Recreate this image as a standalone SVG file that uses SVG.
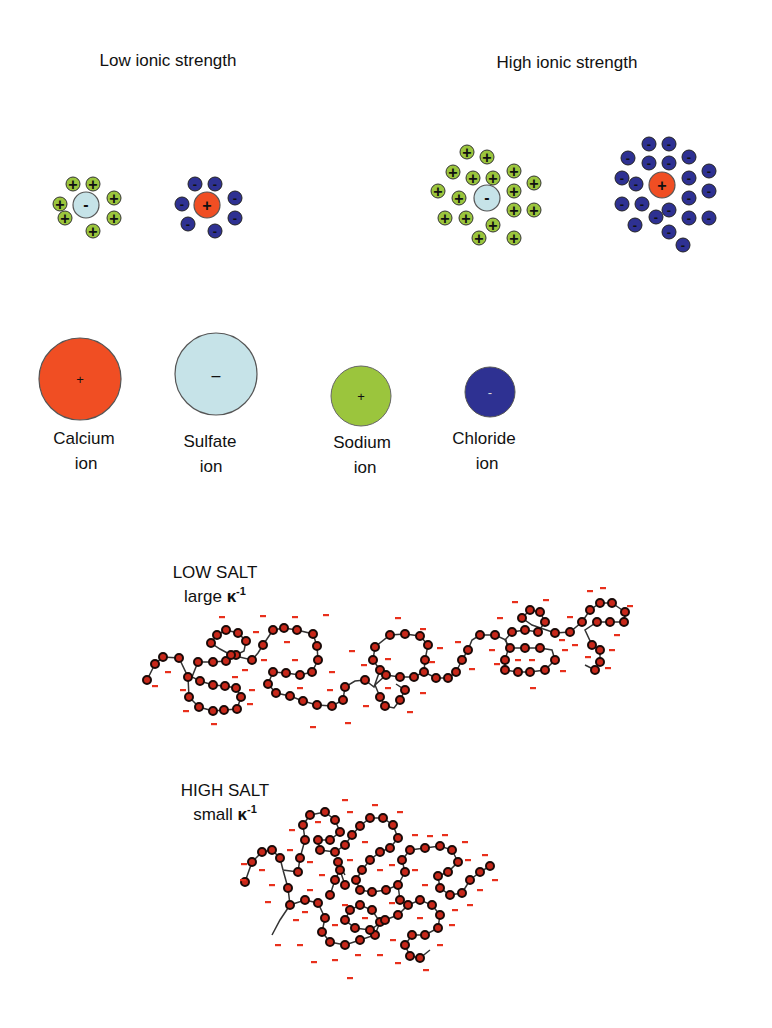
<svg xmlns="http://www.w3.org/2000/svg" width="772" height="1028" viewBox="0 0 772 1028">
<style>
text{font-family:"Liberation Sans",Arial,sans-serif;fill:#111}
.t{font-size:17px;text-anchor:middle}
.g{fill:#9bc53d;stroke:#333;stroke-width:1}
.b{fill:#2e3192;stroke:#222;stroke-width:1}
.lb{fill:#c6e3e8;stroke:#555;stroke-width:1.2}
.r{fill:#f04e23;stroke:#555;stroke-width:1.2}
.s{font-size:16px;text-anchor:middle;font-weight:bold}
.chain{fill:none;stroke:#333;stroke-width:1.5}
.bead{fill:#c8281a;stroke:#1a0a08;stroke-width:2}
.d{fill:#e8301c}
</style>
<defs>
<g id="gp"><circle r="7" class="g"/><text y="5.5" class="s">+</text></g>
<g id="bm"><circle r="7" class="b"/><text y="4.5" class="s" style="font-size:13px">-</text></g>
<rect id="dash" x="-3" y="-1" width="6" height="2.2" class="d"/>
</defs>
<text x="168" y="66" class="t">Low ionic strength</text>
<text x="567" y="68" class="t">High ionic strength</text>

<g id="low-anion">
<circle cx="86" cy="205" r="13" class="lb"/><text x="86" y="210" class="s">-</text>
<use href="#gp" x="73" y="184"/><use href="#gp" x="93" y="184"/><use href="#gp" x="114" y="198"/><use href="#gp" x="114" y="218"/><use href="#gp" x="93" y="231"/><use href="#gp" x="65" y="218"/><use href="#gp" x="60" y="204"/>
</g>
<g id="low-cation">
<circle cx="207" cy="205" r="13" class="r"/><text x="207" y="211" class="s">+</text>
<use href="#bm" x="195" y="184"/><use href="#bm" x="215" y="184"/><use href="#bm" x="235" y="198"/><use href="#bm" x="235" y="218"/><use href="#bm" x="215" y="231"/><use href="#bm" x="188" y="224"/><use href="#bm" x="182" y="204"/>
</g>
<g id="high-anion">
<circle cx="487" cy="198" r="13" class="lb"/><text x="487" y="203" class="s">-</text>
<use href="#gp" x="467" y="152"/><use href="#gp" x="487" y="157"/><use href="#gp" x="453" y="172"/><use href="#gp" x="473" y="178"/><use href="#gp" x="493" y="178"/><use href="#gp" x="514" y="171"/><use href="#gp" x="534" y="183"/><use href="#gp" x="438" y="191"/><use href="#gp" x="459" y="198"/><use href="#gp" x="514" y="191"/><use href="#gp" x="445" y="218"/><use href="#gp" x="466" y="218"/><use href="#gp" x="514" y="210"/><use href="#gp" x="534" y="210"/><use href="#gp" x="493" y="225"/><use href="#gp" x="479" y="238"/><use href="#gp" x="514" y="238"/>
</g>
<g id="high-cation">
<circle cx="662" cy="185" r="13" class="r"/><text x="662" y="191" class="s">+</text>
<use href="#bm" x="649" y="144"/><use href="#bm" x="669" y="144"/><use href="#bm" x="628" y="158"/><use href="#bm" x="649" y="163"/><use href="#bm" x="669" y="163"/><use href="#bm" x="689" y="157"/><use href="#bm" x="709" y="171"/><use href="#bm" x="622" y="178"/><use href="#bm" x="636" y="184"/><use href="#bm" x="689" y="178"/><use href="#bm" x="709" y="191"/><use href="#bm" x="622" y="204"/><use href="#bm" x="642" y="204"/><use href="#bm" x="669" y="210"/><use href="#bm" x="689" y="198"/><use href="#bm" x="656" y="217"/><use href="#bm" x="689" y="218"/><use href="#bm" x="709" y="218"/><use href="#bm" x="635" y="225"/><use href="#bm" x="669" y="232"/><use href="#bm" x="683" y="245"/>
</g>

<g id="calcium"><circle cx="80" cy="379" r="41" class="r"/><text x="80" y="384" style="font-size:13px;text-anchor:middle">+</text>
<text x="84" y="444" class="t">Calcium</text><text x="86" y="469" class="t">ion</text></g>
<g id="sulfate"><circle cx="216" cy="374" r="41" class="lb"/><text x="216" y="381" style="font-size:16px;text-anchor:middle">–</text>
<text x="210" y="447" class="t">Sulfate</text><text x="211" y="472" class="t">ion</text></g>
<g id="sodium"><circle cx="361" cy="396" r="30" fill="#9bc53d" stroke="#666"/><text x="361" y="401" style="font-size:13px;text-anchor:middle">+</text>
<text x="362" y="448" class="t">Sodium</text><text x="365" y="473" class="t">ion</text></g>
<g id="chloride"><circle cx="490" cy="392" r="25" fill="#2e3192" stroke="#555"/><text x="490" y="397" style="font-size:13px;text-anchor:middle;fill:#ddd">-</text>
<text x="484" y="444" class="t">Chloride</text><text x="487" y="469" class="t">ion</text></g>

<text x="215" y="578" class="t">LOW SALT</text>
<text x="215" y="602" class="t">large <tspan font-weight="bold">κ</tspan><tspan font-size="11" dy="-7" font-weight="bold">-1</tspan></text>
<text x="225" y="796" class="t">HIGH SALT</text>
<text x="225" y="820" class="t">small <tspan font-weight="bold">κ</tspan><tspan font-size="11" dy="-7" font-weight="bold">-1</tspan></text>

<g id="low-salt-polymer">
<path class="chain" d="M147,680 L155,664 163,657 179,658 188,677 189,697 199,707 213,711 224,710 237,709 241,697 236,688 225,686 213,685 200,681 192,677 198,662 213,662 226,661 236,655 244,651 246,641 238,633 226,630 217,635 211,643 220,649 231,655 252,660 258,653 263,645 273,630 284,628 297,630 313,634 317,646 318,660 312,672 300,675 286,673 273,672 268,684 276,693 290,696 303,701 317,705 332,706 343,700 345,687 355,681 365,680 374,687 380,670 373,660 375,647 390,635 405,634 420,636 428,645 425,660 424,672 414,677 400,677 386,675 375,685 380,697 385,706 394,708 400,700 405,690 396,684 M424,672 L436,678 448,678 456,672 462,660 468,650 472,640 480,635 495,635 506,640 508,650 505,660 505,670 518,672 530,672 545,670 555,660 552,650 540,648 525,648 510,648 505,640 512,632 525,630 538,632 545,622 540,612 530,610 522,618 532,625 555,633 570,632 582,622 590,610 600,603 612,603 625,612 624,622 610,622 597,622 585,630 592,645 600,650 600,662 595,670 585,665"/>
<g class="bead">
<circle cx="147" cy="680" r="4"/><circle cx="155" cy="664" r="4"/><circle cx="163" cy="657" r="4"/><circle cx="179" cy="658" r="4"/><circle cx="188" cy="677" r="4"/><circle cx="189" cy="697" r="4"/><circle cx="199" cy="707" r="4"/><circle cx="213" cy="711" r="4"/><circle cx="224" cy="710" r="4"/><circle cx="237" cy="709" r="4"/><circle cx="241" cy="697" r="4"/><circle cx="236" cy="688" r="4"/><circle cx="225" cy="686" r="4"/><circle cx="213" cy="685" r="4"/><circle cx="200" cy="681" r="4"/><circle cx="198" cy="662" r="4"/><circle cx="213" cy="662" r="4"/><circle cx="226" cy="661" r="4"/><circle cx="236" cy="655" r="4"/><circle cx="246" cy="641" r="4"/><circle cx="238" cy="633" r="4"/><circle cx="226" cy="630" r="4"/><circle cx="217" cy="635" r="4"/><circle cx="211" cy="643" r="4"/><circle cx="231" cy="655" r="4"/><circle cx="252" cy="660" r="4"/><circle cx="263" cy="645" r="4"/><circle cx="273" cy="630" r="4"/><circle cx="284" cy="628" r="4"/><circle cx="297" cy="630" r="4"/><circle cx="313" cy="634" r="4"/><circle cx="317" cy="646" r="4"/><circle cx="318" cy="660" r="4"/><circle cx="312" cy="672" r="4"/><circle cx="300" cy="675" r="4"/><circle cx="286" cy="673" r="4"/><circle cx="273" cy="672" r="4"/><circle cx="268" cy="684" r="4"/><circle cx="276" cy="693" r="4"/><circle cx="290" cy="696" r="4"/><circle cx="303" cy="701" r="4"/><circle cx="317" cy="705" r="4"/><circle cx="332" cy="706" r="4"/><circle cx="343" cy="700" r="4"/><circle cx="345" cy="687" r="4"/><circle cx="365" cy="680" r="4"/><circle cx="380" cy="670" r="4"/><circle cx="373" cy="660" r="4"/><circle cx="375" cy="647" r="4"/><circle cx="390" cy="635" r="4"/><circle cx="405" cy="634" r="4"/><circle cx="420" cy="636" r="4"/><circle cx="428" cy="645" r="4"/><circle cx="425" cy="660" r="4"/><circle cx="424" cy="672" r="4"/><circle cx="414" cy="677" r="4"/><circle cx="400" cy="677" r="4"/><circle cx="386" cy="675" r="4"/><circle cx="380" cy="697" r="4"/><circle cx="385" cy="706" r="4"/><circle cx="400" cy="700" r="4"/><circle cx="405" cy="690" r="4"/><circle cx="436" cy="678" r="4"/><circle cx="448" cy="678" r="4"/><circle cx="456" cy="672" r="4"/><circle cx="462" cy="660" r="4"/><circle cx="468" cy="650" r="4"/><circle cx="480" cy="635" r="4"/><circle cx="495" cy="635" r="4"/><circle cx="505" cy="660" r="4"/><circle cx="505" cy="670" r="4"/><circle cx="518" cy="672" r="4"/><circle cx="530" cy="672" r="4"/><circle cx="545" cy="670" r="4"/><circle cx="555" cy="660" r="4"/><circle cx="540" cy="648" r="4"/><circle cx="525" cy="648" r="4"/><circle cx="510" cy="648" r="4"/><circle cx="512" cy="632" r="4"/><circle cx="525" cy="630" r="4"/><circle cx="538" cy="632" r="4"/><circle cx="545" cy="622" r="4"/><circle cx="540" cy="612" r="4"/><circle cx="530" cy="610" r="4"/><circle cx="522" cy="618" r="4"/><circle cx="555" cy="633" r="4"/><circle cx="570" cy="632" r="4"/><circle cx="582" cy="622" r="4"/><circle cx="590" cy="610" r="4"/><circle cx="600" cy="603" r="4"/><circle cx="612" cy="603" r="4"/><circle cx="625" cy="612" r="4"/><circle cx="624" cy="622" r="4"/><circle cx="610" cy="622" r="4"/><circle cx="597" cy="622" r="4"/><circle cx="592" cy="645" r="4"/><circle cx="600" cy="650" r="4"/><circle cx="600" cy="662" r="4"/><circle cx="595" cy="670" r="4"/>
</g>
<g>
<use href="#dash" x="155" y="686"/><use href="#dash" x="168" y="672"/><use href="#dash" x="183" y="690"/><use href="#dash" x="186" y="711"/><use href="#dash" x="214" y="724"/><use href="#dash" x="250" y="704"/><use href="#dash" x="252" y="690"/><use href="#dash" x="222" y="617"/><use href="#dash" x="235" y="677"/><use href="#dash" x="245" y="670"/><use href="#dash" x="256" y="632"/><use href="#dash" x="264" y="660"/><use href="#dash" x="287" y="642"/><use href="#dash" x="263" y="616"/><use href="#dash" x="295" y="660"/><use href="#dash" x="300" y="688"/><use href="#dash" x="330" y="690"/><use href="#dash" x="313" y="727"/><use href="#dash" x="348" y="723"/><use href="#dash" x="332" y="672"/><use href="#dash" x="352" y="651"/><use href="#dash" x="295" y="617"/><use href="#dash" x="326" y="615"/><use href="#dash" x="366" y="706"/><use href="#dash" x="364" y="665"/><use href="#dash" x="388" y="688"/><use href="#dash" x="388" y="659"/><use href="#dash" x="398" y="618"/><use href="#dash" x="423" y="629"/><use href="#dash" x="432" y="662"/><use href="#dash" x="440" y="648"/><use href="#dash" x="423" y="693"/><use href="#dash" x="410" y="712"/><use href="#dash" x="458" y="642"/><use href="#dash" x="472" y="669"/><use href="#dash" x="492" y="650"/><use href="#dash" x="497" y="664"/><use href="#dash" x="518" y="660"/><use href="#dash" x="532" y="660"/><use href="#dash" x="533" y="688"/><use href="#dash" x="563" y="671"/><use href="#dash" x="565" y="650"/><use href="#dash" x="500" y="618"/><use href="#dash" x="515" y="602"/><use href="#dash" x="546" y="600"/><use href="#dash" x="570" y="617"/><use href="#dash" x="562" y="640"/><use href="#dash" x="590" y="591"/><use href="#dash" x="603" y="588"/><use href="#dash" x="630" y="606"/><use href="#dash" x="617" y="635"/><use href="#dash" x="575" y="645"/><use href="#dash" x="588" y="657"/><use href="#dash" x="612" y="650"/><use href="#dash" x="608" y="668"/>
</g>
</g>

<g id="high-salt-polymer">
<path class="chain" d="M245,882 L252,862 262,852 272,850 280,858 283,870 298,872 300,858 305,840 303,825 310,815 325,812 335,820 340,832 330,840 318,840 320,850 335,852 345,845 352,835 360,826 370,818 383,818 393,825 398,838 390,848 380,852 370,860 362,870 356,880 360,890 372,892 386,890 398,885 405,872 402,860 410,850 425,848 440,846 452,850 458,862 448,872 438,876 440,888 450,895 462,893 470,880 480,872 490,866 M283,870 L288,888 290,905 M272,935 L280,920 290,905 305,900 318,903 325,918 322,932 330,942 345,945 360,940 375,935 380,922 372,910 360,905 350,910 345,920 355,928 370,930 385,920 398,915 408,905 420,900 432,905 440,915 438,928 425,935 412,935 405,945 410,956 420,958 430,950 M345,885 L340,870 335,880 330,895 M398,885 L400,900 M338,862 L345,875"/>
<g class="bead">
<circle cx="245" cy="882" r="4"/><circle cx="252" cy="862" r="4"/><circle cx="262" cy="852" r="4"/><circle cx="272" cy="850" r="4"/><circle cx="280" cy="858" r="4"/><circle cx="298" cy="872" r="4"/><circle cx="300" cy="858" r="4"/><circle cx="305" cy="840" r="4"/><circle cx="303" cy="825" r="4"/><circle cx="310" cy="815" r="4"/><circle cx="325" cy="812" r="4"/><circle cx="335" cy="820" r="4"/><circle cx="340" cy="832" r="4"/><circle cx="330" cy="840" r="4"/><circle cx="318" cy="840" r="4"/><circle cx="320" cy="850" r="4"/><circle cx="335" cy="852" r="4"/><circle cx="345" cy="845" r="4"/><circle cx="352" cy="835" r="4"/><circle cx="360" cy="826" r="4"/><circle cx="370" cy="818" r="4"/><circle cx="383" cy="818" r="4"/><circle cx="393" cy="825" r="4"/><circle cx="398" cy="838" r="4"/><circle cx="390" cy="848" r="4"/><circle cx="380" cy="852" r="4"/><circle cx="370" cy="860" r="4"/><circle cx="362" cy="870" r="4"/><circle cx="356" cy="880" r="4"/><circle cx="360" cy="890" r="4"/><circle cx="372" cy="892" r="4"/><circle cx="386" cy="890" r="4"/><circle cx="398" cy="885" r="4"/><circle cx="405" cy="872" r="4"/><circle cx="402" cy="860" r="4"/><circle cx="410" cy="850" r="4"/><circle cx="425" cy="848" r="4"/><circle cx="440" cy="846" r="4"/><circle cx="452" cy="850" r="4"/><circle cx="458" cy="862" r="4"/><circle cx="448" cy="872" r="4"/><circle cx="438" cy="876" r="4"/><circle cx="440" cy="888" r="4"/><circle cx="450" cy="895" r="4"/><circle cx="462" cy="893" r="4"/><circle cx="470" cy="880" r="4"/><circle cx="480" cy="872" r="4"/><circle cx="490" cy="866" r="4"/><circle cx="288" cy="888" r="4"/><circle cx="290" cy="905" r="4"/><circle cx="305" cy="900" r="4"/><circle cx="318" cy="903" r="4"/><circle cx="325" cy="918" r="4"/><circle cx="322" cy="932" r="4"/><circle cx="330" cy="942" r="4"/><circle cx="345" cy="945" r="4"/><circle cx="360" cy="940" r="4"/><circle cx="375" cy="935" r="4"/><circle cx="380" cy="922" r="4"/><circle cx="372" cy="910" r="4"/><circle cx="360" cy="905" r="4"/><circle cx="350" cy="910" r="4"/><circle cx="345" cy="920" r="4"/><circle cx="355" cy="928" r="4"/><circle cx="370" cy="930" r="4"/><circle cx="385" cy="920" r="4"/><circle cx="398" cy="915" r="4"/><circle cx="408" cy="905" r="4"/><circle cx="420" cy="900" r="4"/><circle cx="432" cy="905" r="4"/><circle cx="440" cy="915" r="4"/><circle cx="438" cy="928" r="4"/><circle cx="425" cy="935" r="4"/><circle cx="412" cy="935" r="4"/><circle cx="405" cy="945" r="4"/><circle cx="410" cy="956" r="4"/><circle cx="420" cy="958" r="4"/><circle cx="345" cy="885" r="4"/><circle cx="340" cy="870" r="4"/><circle cx="335" cy="880" r="4"/><circle cx="330" cy="895" r="4"/><circle cx="400" cy="900" r="4"/><circle cx="338" cy="862" r="4"/>
</g>
<g>
<use href="#dash" x="244" y="864"/><use href="#dash" x="243" y="880"/><use href="#dash" x="262" y="870"/><use href="#dash" x="272" y="885"/><use href="#dash" x="268" y="902"/><use href="#dash" x="278" y="945"/><use href="#dash" x="296" y="920"/><use href="#dash" x="300" y="945"/><use href="#dash" x="314" y="962"/><use href="#dash" x="335" y="960"/><use href="#dash" x="350" y="978"/><use href="#dash" x="358" y="955"/><use href="#dash" x="380" y="955"/><use href="#dash" x="393" y="940"/><use href="#dash" x="398" y="963"/><use href="#dash" x="426" y="970"/><use href="#dash" x="440" y="945"/><use href="#dash" x="452" y="925"/><use href="#dash" x="455" y="910"/><use href="#dash" x="470" y="905"/><use href="#dash" x="480" y="890"/><use href="#dash" x="495" y="880"/><use href="#dash" x="485" y="855"/><use href="#dash" x="468" y="860"/><use href="#dash" x="465" y="842"/><use href="#dash" x="445" y="835"/><use href="#dash" x="430" y="836"/><use href="#dash" x="415" y="835"/><use href="#dash" x="400" y="812"/><use href="#dash" x="375" y="805"/><use href="#dash" x="350" y="812"/><use href="#dash" x="345" y="800"/><use href="#dash" x="318" y="822"/><use href="#dash" x="292" y="830"/><use href="#dash" x="290" y="850"/><use href="#dash" x="310" y="862"/><use href="#dash" x="322" y="875"/><use href="#dash" x="310" y="890"/><use href="#dash" x="350" y="860"/><use href="#dash" x="365" y="842"/><use href="#dash" x="380" y="870"/><use href="#dash" x="392" y="865"/><use href="#dash" x="415" y="870"/><use href="#dash" x="425" y="885"/><use href="#dash" x="420" y="918"/><use href="#dash" x="392" y="903"/><use href="#dash" x="365" y="918"/><use href="#dash" x="335" y="925"/><use href="#dash" x="305" y="912"/><use href="#dash" x="345" y="905"/>
</g>
</g>
</svg>
